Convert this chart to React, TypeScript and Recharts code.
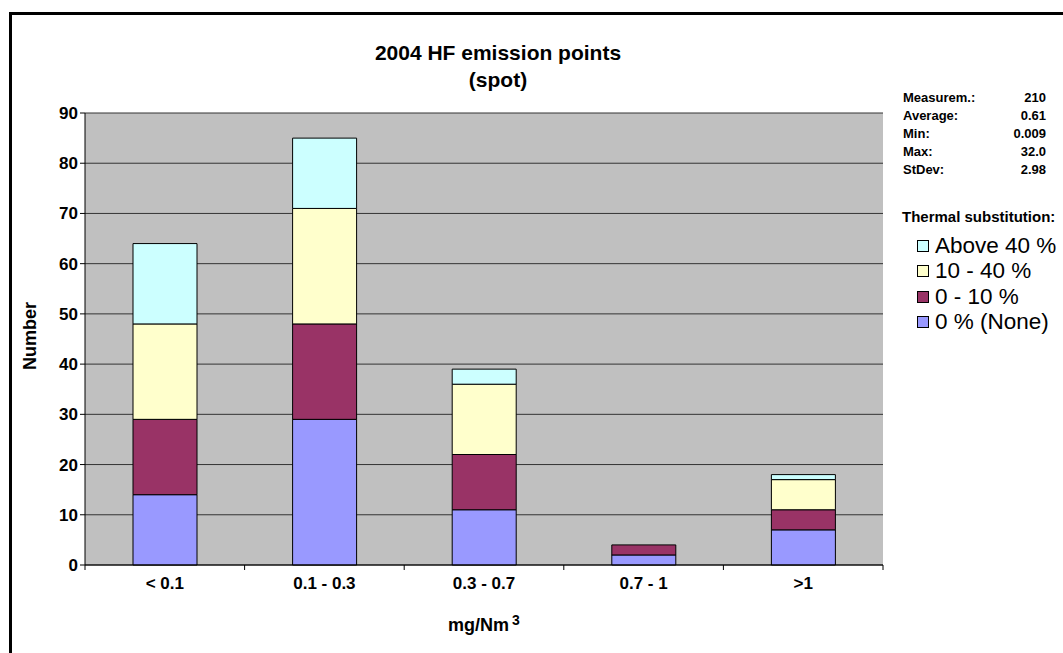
import * as React from "react";
import { BarChart, Bar, XAxis, YAxis, CartesianGrid } from "recharts";

const ranges: string[] = ["< 0.1", "0.1 - 0.3", "0.3 - 0.7", "0.7 - 1", ">1"];
const none: number[] = [14, 29, 11, 2, 7];
const low: number[] = [15, 19, 11, 2, 4];
const mid: number[] = [19, 23, 14, 0, 6];
const high: number[] = [16, 14, 3, 0, 1];
const yTicks: number[] = [0, 10, 20, 30, 40, 50, 60, 70, 80, 90];

const statLabels: string[] = ["Measurem.:", "Average:", "Min:", "Max:", "StDev:"];
const statValues: string[] = ["210", "0.61", "0.009", "32.0", "2.98"];

// bottom to top
const series = [
  { key: "none", name: "0 % (None)", colour: "#9999FF", values: none },
  { key: "low", name: "0 - 10 %", colour: "#993366", values: low },
  { key: "mid", name: "10 - 40 %", colour: "#FFFFCC", values: mid },
  { key: "high", name: "Above 40 %", colour: "#CCFFFF", values: high }
];

const data = ranges.map((range, i) => {
  const row: { [k: string]: string | number } = { range };
  series.forEach(s => (row[s.key] = s.values[i]));
  return row;
});

const font = "'Liberation Sans', Arial, sans-serif";
const tickStyle = { fill: "#000", fontSize: 17, fontWeight: 700, fontFamily: font };
const LABEL_GAP = 12;

// excel puts the x tick marks between the categories, not under them
const CategoryTick = (props: any) => {
  const { x, y, payload, index, visibleTicksCount } = props;
  const half = payload && payload.offset ? payload.offset : 0;
  const y0 = y - LABEL_GAP;
  const last = index === visibleTicksCount - 1;
  return (
    <g>
      {half > 0 && (
        <line x1={x - half} x2={x - half} y1={y0} y2={y0 + 5} stroke="#000" />
      )}
      {half > 0 && last && (
        <line x1={x + half} x2={x + half} y1={y0} y2={y0 + 5} stroke="#000" />
      )}
      <text x={x} y={y} dy="0.71em" textAnchor="middle" {...tickStyle}>
        {payload.value}
      </text>
    </g>
  );
};

export default function App() {
  return (
    <div
      style={{
        position: "absolute",
        left: 0,
        top: 0,
        width: 1063,
        height: 653,
        overflow: "hidden",
        background: "#fff",
        fontFamily: font
      }}
    >
      <div
        style={{
          position: "absolute",
          left: 9,
          top: 12,
          width: 1200,
          height: 800,
          border: "3px solid #000"
        }}
      />
      <div style={{ position: "absolute", left: 0, top: 0 }}>
        <BarChart
          width={1063}
          height={653}
          data={data}
          margin={{ top: 113, right: 180, left: 0, bottom: 0 }}
        >
          <CartesianGrid
            vertical={false}
            stroke="#333"
            fill="#C0C0C0"
            fillOpacity={1}
          />
          <YAxis
            width={85}
            domain={[0, 90]}
            ticks={yTicks}
            interval={0}
            axisLine={{ stroke: "#000" }}
            tickLine={{ stroke: "#000" }}
            tickSize={5}
            tickMargin={2}
            tick={tickStyle}
          />
          <XAxis
            dataKey="range"
            height={88}
            interval={0}
            axisLine={{ stroke: "#000" }}
            tickLine={false}
            tickSize={0}
            tickMargin={LABEL_GAP}
            tick={<CategoryTick />}
          />
          {series.map(s => (
            <Bar
              key={s.key}
              dataKey={s.key}
              name={s.name}
              stackId="a"
              fill={s.colour}
              stroke="#000"
              strokeWidth={1}
              barSize={64}
              isAnimationActive={false}
            />
          ))}
        </BarChart>
      </div>

      <div
        style={{
          position: "absolute",
          left: 248,
          width: 500,
          top: 39,
          textAlign: "center",
          fontSize: 21,
          fontWeight: 700,
          lineHeight: "27px"
        }}
      >
        2004 HF emission points
        <br />
        (spot)
      </div>

      <div
        style={{
          position: "absolute",
          left: 30 - 50,
          top: 336 - 12,
          width: 100,
          textAlign: "center",
          transform: "rotate(-90deg)",
          fontSize: 18,
          fontWeight: 700,
          lineHeight: "24px"
        }}
      >
        Number
      </div>

      <div
        style={{
          position: "absolute",
          left: 424,
          width: 120,
          top: 612,
          textAlign: "center",
          fontSize: 18,
          fontWeight: 700,
          whiteSpace: "nowrap"
        }}
      >
        mg/Nm<sup style={{ fontSize: 14, marginLeft: 3, verticalAlign: 6 }}>3</sup>
      </div>

      <div
        style={{
          position: "absolute",
          left: 903,
          top: 89,
          width: 143,
          fontSize: 13,
          fontWeight: 700,
          lineHeight: "18px"
        }}
      >
        {statLabels.map((l, i) => (
          <div key={l} style={{ display: "flex", justifyContent: "space-between" }}>
            <span>{l}</span>
            <span>{statValues[i]}</span>
          </div>
        ))}
      </div>

      <div
        style={{
          position: "absolute",
          left: 902,
          top: 208,
          fontSize: 15,
          fontWeight: 700,
          whiteSpace: "nowrap"
        }}
      >
        Thermal substitution:
      </div>

      <div style={{ position: "absolute", left: 917, top: 233 }}>
        {[...series].reverse().map(s => (
          <div
            key={s.key}
            style={{
              display: "flex",
              alignItems: "center",
              height: 25.5,
              fontSize: 22.5,
              whiteSpace: "nowrap"
            }}
          >
            <span
              style={{
                display: "inline-block",
                width: 10,
                height: 10,
                background: s.colour,
                border: "1px solid #000",
                marginRight: 6
              }}
            />
            {s.name}
          </div>
        ))}
      </div>
    </div>
  );
}
